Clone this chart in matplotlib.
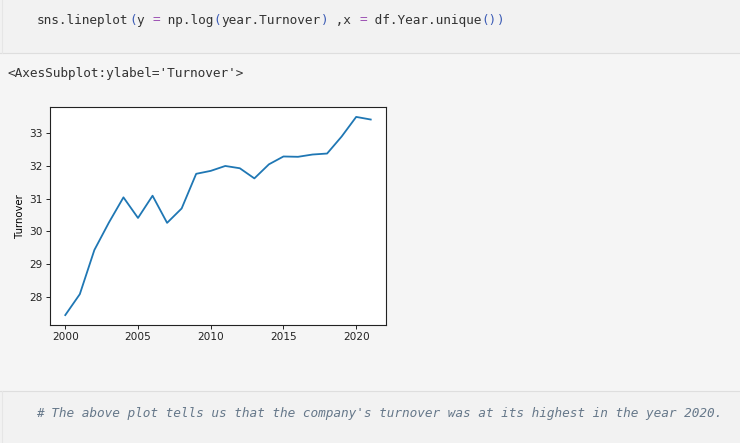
import numpy as np
import matplotlib
matplotlib.use("Agg")
import matplotlib.pyplot as plt
import seaborn as sns

# data (log of turnover per year)
years = list(range(2000, 2022))
turnover = [27.44, 28.08, 29.43, 30.27, 31.04, 30.41, 31.09, 30.26, 30.70, 31.76,
            31.85, 32.00, 31.93, 31.62, 32.05, 32.29, 32.28, 32.35, 32.38, 32.90,
            33.50, 33.42]
xticks = [2000, 2005, 2010, 2015, 2020]
yticks = [28, 29, 30, 31, 32, 33]

W, H = 740, 443
fig = plt.figure(figsize=(W / 100, H / 100), dpi=100)
fig.patch.set_facecolor('#f5f5f5')

# notebook cell backgrounds
bg = fig.add_axes([0, 0, 1, 1], zorder=-10)
bg.set_xlim(0, W)
bg.set_ylim(H, 0)
bg.axis('off')
bg.add_patch(plt.Rectangle((0, 0), W, 53, color='#f2f2f2', lw=0))
bg.plot([0, W], [53, 53], color='#dedede', lw=0.8)
bg.plot([1.5, 1.5], [0, 53], color='#e6e6e6', lw=0.8)
bg.add_patch(plt.Rectangle((0, 391), W, H - 391, color='#f2f2f2', lw=0))
bg.plot([0, W], [391, 391], color='#dedede', lw=0.8)
bg.plot([1.5, 1.5], [391, H], color='#e6e6e6', lw=0.8)

mono = 'DejaVu Sans Mono'
cw = 7.67  # px per character
fs = 9.2

# code line, token by token
code = [("sns.lineplot", '#333333'), ("(", '#3b5bb5'), ("y ", '#333333'), ("=", '#9b4fb3'),
        (" np.log", '#333333'), ("(", '#3b5bb5'), ("year.Turnover", '#333333'), (")", '#3b5bb5'),
        (" ,x ", '#333333'), ("=", '#9b4fb3'), (" df.Year.unique", '#333333'), ("()", '#3b5bb5'),
        (")", '#3b5bb5')]
pos = 0
for tok, col in code:
    bg.text(37 + pos * cw, 20, tok, color=col, fontsize=fs, family=mono, va='center', ha='left')
    pos += len(tok)

bg.text(8, 73, "<AxesSubplot:ylabel='Turnover'>", color='#333333', fontsize=fs,
        family=mono, va='center', ha='left')

bg.text(36, 413, "# The above plot tells us that the company's turnover was at its highest in the year 2020.",
        color='#66788a', fontsize=9.17, family=mono, style='italic', va='center', ha='left')

# the plot itself
ax = fig.add_axes([50 / W, (H - 325) / H, 336 / W, 218 / H])
ax.set_facecolor('white')
sns.lineplot(x=years, y=turnover, ax=ax, color='#1f77b4', lw=1.3)
ax.set_xticks(xticks)
ax.set_yticks(yticks)
ax.set_ylabel('Turnover', fontsize=7.3, labelpad=3)
ax.tick_params(labelsize=7.6, length=2.6, width=0.7, pad=2.5, colors='#222222')
for s in ax.spines.values():
    s.set_linewidth(0.8)
    s.set_color('#222222')

fig.savefig('out.png', dpi=100, facecolor=fig.get_facecolor())
